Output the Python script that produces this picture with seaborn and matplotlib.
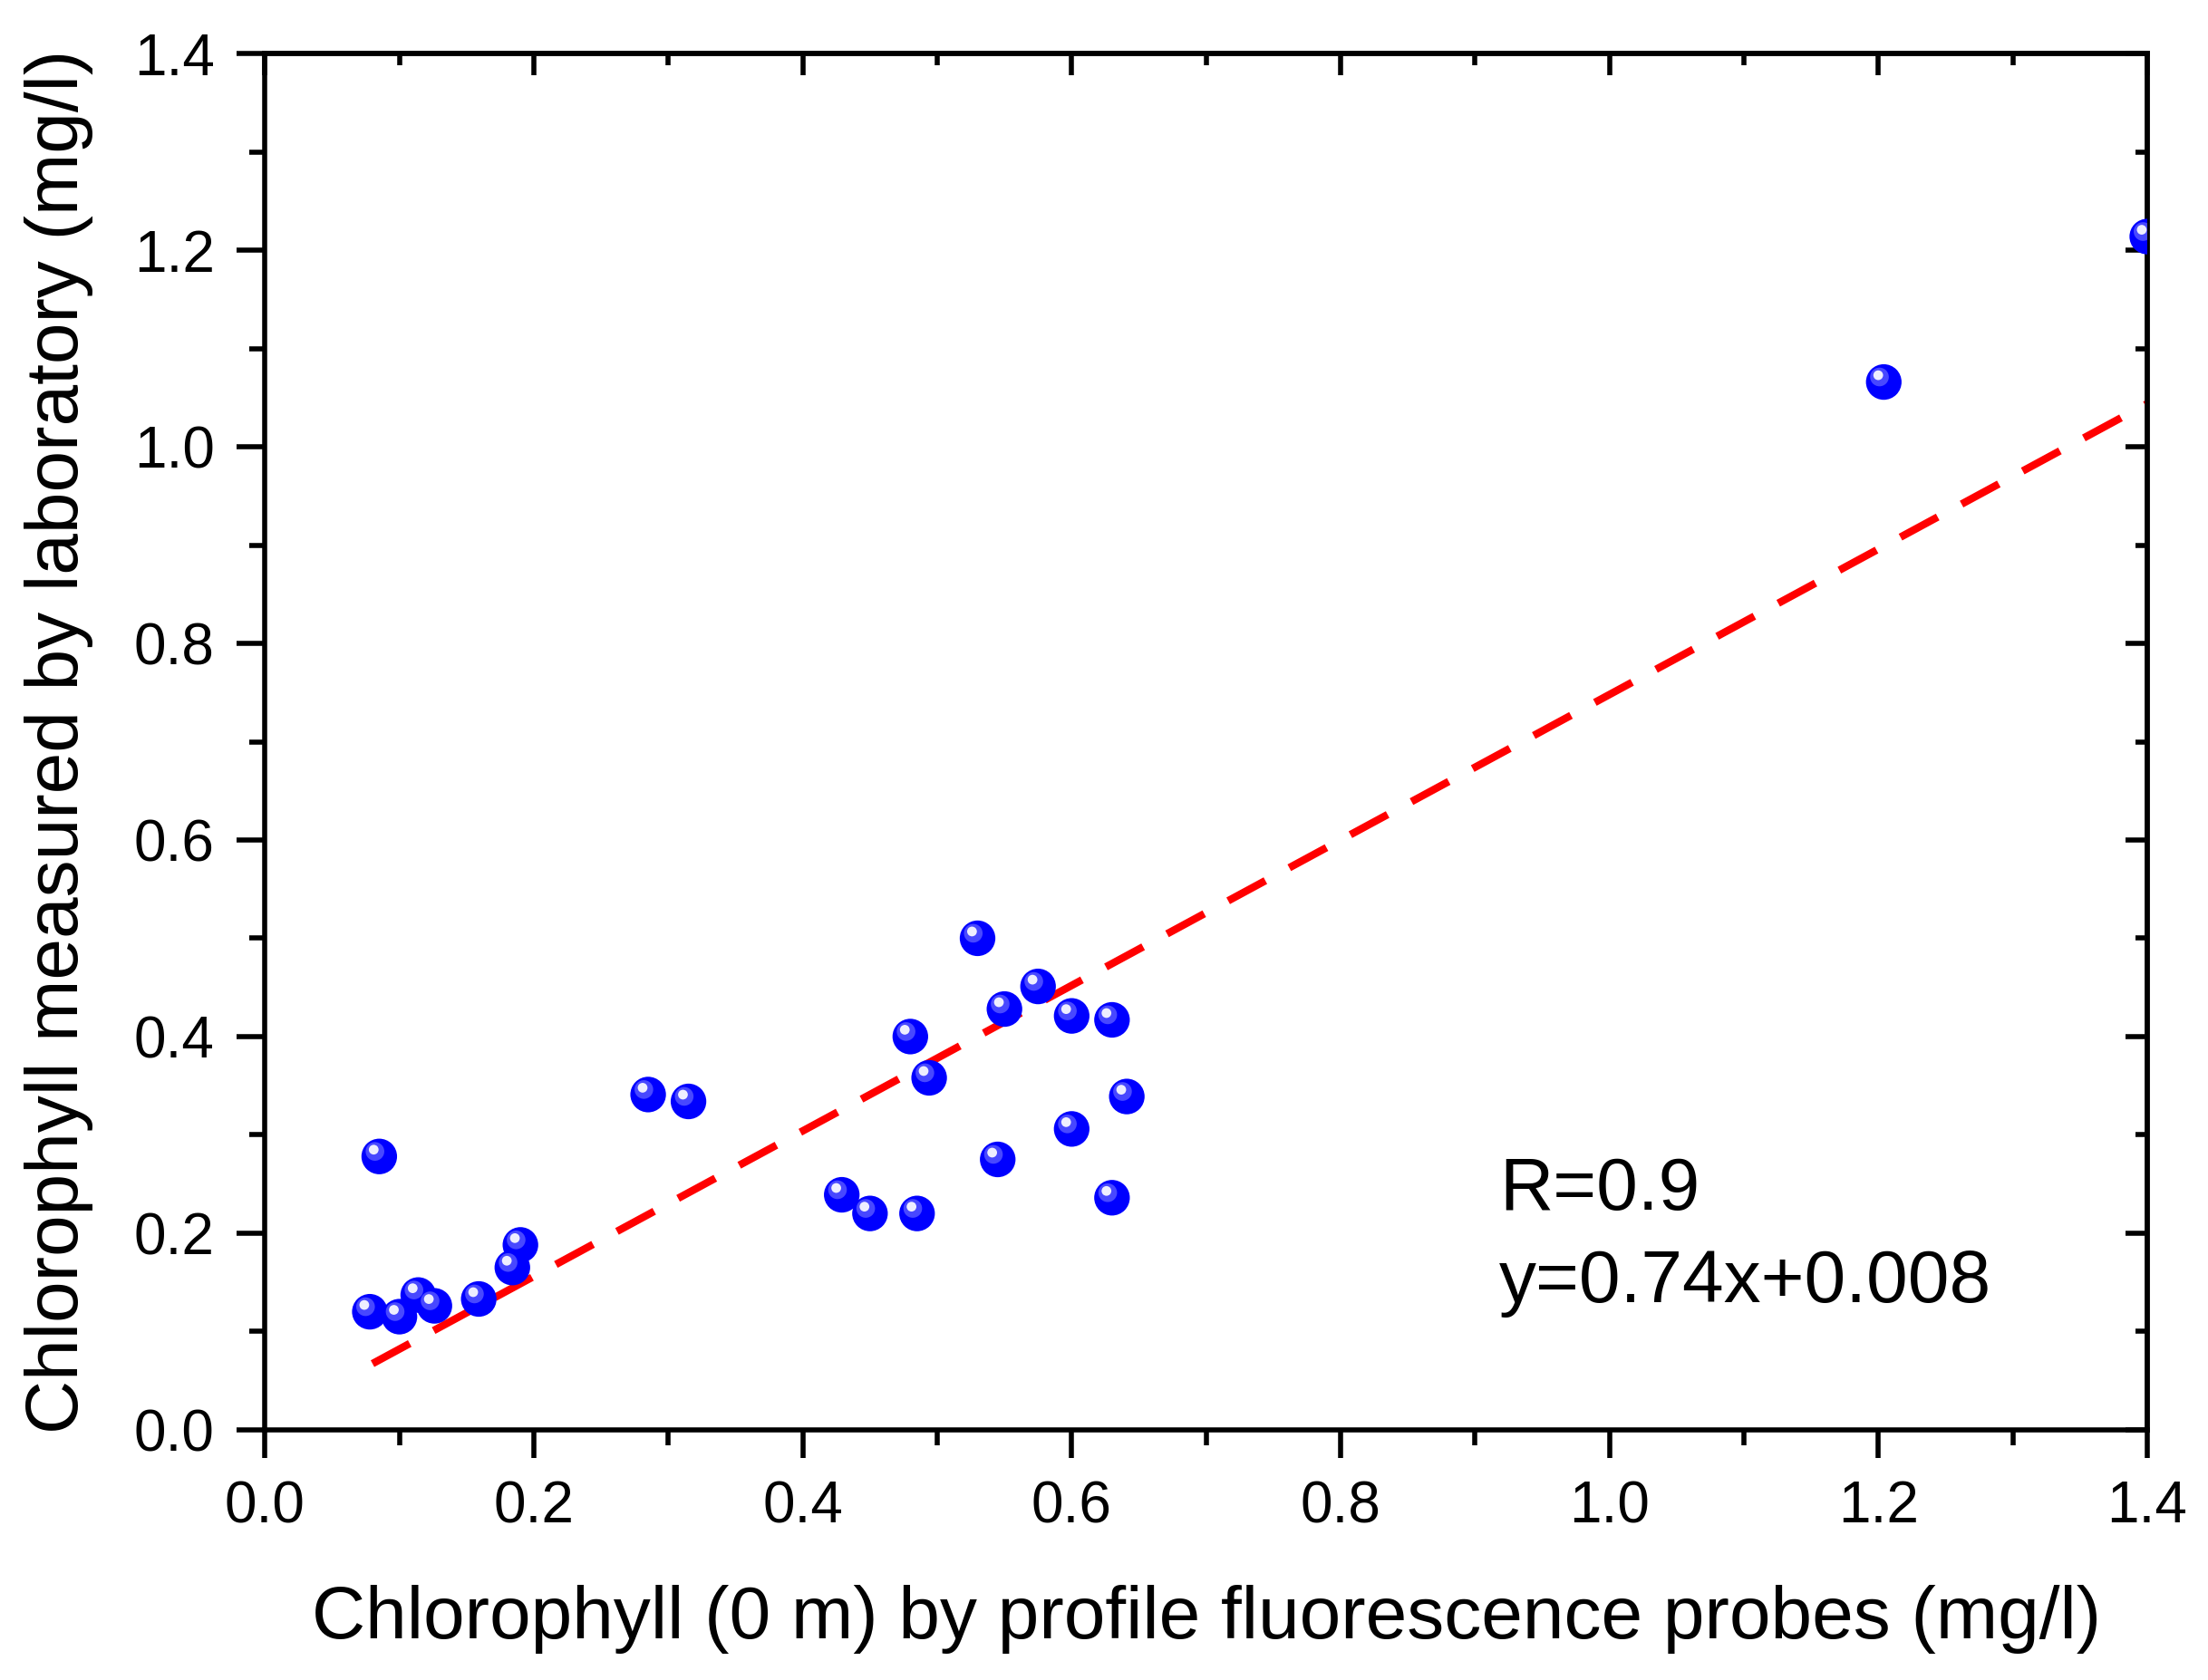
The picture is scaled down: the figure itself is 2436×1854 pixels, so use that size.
import numpy as np
import pandas as pd
import matplotlib
matplotlib.use("Agg")
import matplotlib.pyplot as plt
import matplotlib.transforms as mtransforms
from matplotlib.ticker import MultipleLocator
import seaborn as sns

# ---- data ----
probe_chl = [0.078, 0.085, 0.100, 0.114, 0.126, 0.159, 0.184, 0.190,
             0.285, 0.315, 0.429, 0.450, 0.485, 0.480, 0.494, 0.530,
             0.545, 0.550, 0.575, 0.600, 0.600, 0.630, 0.630, 0.641,
             1.204, 1.400]
lab_chl = [0.120, 0.278, 0.115, 0.137, 0.126, 0.133, 0.165, 0.188,
           0.341, 0.334, 0.239, 0.220, 0.220, 0.400, 0.358, 0.500,
           0.275, 0.428, 0.451, 0.421, 0.306, 0.417, 0.236, 0.339,
           1.066, 1.214]
fit_slope = 0.74
fit_intercept = 0.008
fit_x_range = [0.08, 1.40]
annot_lines = ["R=0.9", "y=0.74x+0.008"]
x_label = "Chlorophyll (0 m) by profile fluorescence probes (mg/l)"
y_label = "Chlorophyll measured by laboratory (mg/l)"

df = pd.DataFrame({"probe": probe_chl, "lab": lab_chl})
fit_x = np.array(fit_x_range)
fit_df = pd.DataFrame({"x": fit_x, "y": fit_slope * fit_x + fit_intercept})

sns.set_theme(style="white")
plt.rcParams["font.family"] = ["Liberation Sans", "DejaVu Sans"]

fig = plt.figure(figsize=(12.18, 9.27), dpi=200)
ax = fig.add_axes([0.120, 0.149, 0.8525, 0.819])

# regression line
sns.lineplot(data=fit_df, x="x", y="y", ax=ax, color="#ff0000", lw=3.0,
             zorder=2)
ax.lines[0].set_dashes((5.6, 3.6))

# sphere-like markers
sns.scatterplot(data=df, x="probe", y="lab", ax=ax, color="#0000ff", s=200,
                edgecolor="none", linewidth=0, zorder=3)
off1 = mtransforms.offset_copy(ax.transData, fig=fig, x=-1.7, y=2.0, units="points")
ax.scatter(df["probe"], df["lab"], s=55, color="#4848ff", edgecolor="none",
           transform=off1, zorder=4)
off2 = mtransforms.offset_copy(ax.transData, fig=fig, x=-2.2, y=2.7, units="points")
ax.scatter(df["probe"], df["lab"], s=15, color="#eeeeff", edgecolor="none",
           transform=off2, zorder=5)

ax.set_xlim(0, 1.4)
ax.set_ylim(0, 1.4)
ax.xaxis.set_major_locator(MultipleLocator(0.2))
ax.xaxis.set_minor_locator(MultipleLocator(0.1))
ax.yaxis.set_major_locator(MultipleLocator(0.2))
ax.yaxis.set_minor_locator(MultipleLocator(0.1))
ax.xaxis.set_major_formatter(plt.FuncFormatter(lambda v, p: f"{v:.1f}"))
ax.yaxis.set_major_formatter(plt.FuncFormatter(lambda v, p: f"{v:.1f}"))

for sp in ax.spines.values():
    sp.set_visible(True)
    sp.set_color("black")
    sp.set_linewidth(2.0)

ax.tick_params(which="major", direction="out", length=11, width=2.0,
               labelsize=23, color="black", labelcolor="black",
               bottom=True, left=True)
ax.tick_params(axis="y", which="major", pad=9)
ax.tick_params(axis="x", which="major", pad=9)
ax.tick_params(which="minor", direction="out", length=6, width=2.0,
               color="black", bottom=True, left=True)

# inward mirror ticks on top and right
topax = ax.secondary_xaxis("top")
rightax = ax.secondary_yaxis("right")
for sa, loc in ((topax, "x"), (rightax, "y")):
    axis = sa.xaxis if loc == "x" else sa.yaxis
    axis.set_major_locator(MultipleLocator(0.2))
    axis.set_minor_locator(MultipleLocator(0.1))
    sa.tick_params(which="major", direction="in", length=8.5, width=2.0,
                   labelsize=0, color="black")
    sa.tick_params(which="minor", direction="in", length=4.8, width=2.0,
                   color="black")
    axis.set_major_formatter(plt.NullFormatter())
    for sp in sa.spines.values():
        sp.set_linewidth(2.0)

ax.set_xlabel(x_label, fontsize=29.5, color="black")
ax.set_ylabel(y_label, fontsize=29.5, color="black")
ax.xaxis.set_label_coords(0.5, -0.113)
ax.yaxis.set_label_coords(-0.091, 0.5)

ax.text(0.918, 0.224, annot_lines[0], fontsize=29.5, color="black",
        ha="left", va="baseline")
ax.text(0.918, 0.130, annot_lines[1], fontsize=29.5, color="black",
        ha="left", va="baseline")

ax.grid(False)
fig.savefig("out.png", dpi=200, facecolor="white")
